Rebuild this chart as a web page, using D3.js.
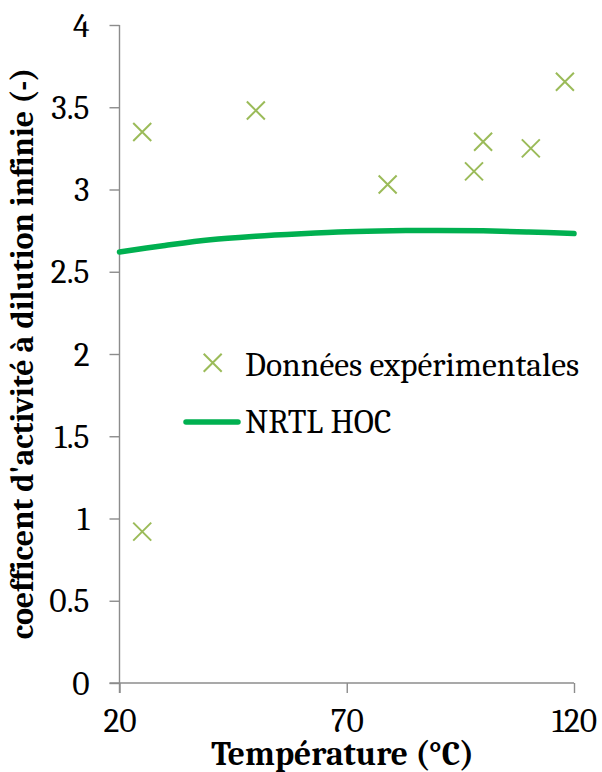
<!DOCTYPE html>
<html>
<head>
<meta charset="utf-8">
<script src="https://cdn.jsdelivr.net/npm/d3@7"></script>
<style>
  html, body { margin: 0; padding: 0; background: #fff; }
</style>
</head>
<body>
<svg id="chart" width="602" height="772"></svg>
<script>
// Data
const expTemps = [25, 25, 50, 79, 98, 100, 110.5, 118];
const expValues = [3.35, 0.92, 3.48, 3.03, 3.11, 3.29, 3.25, 3.655];
const modelTemps = [20, 30, 40, 50, 60, 70, 80, 90, 100, 110, 120];
const modelValues = [2.62, 2.66, 2.695, 2.716, 2.731, 2.743, 2.749, 2.751, 2.749, 2.742, 2.732];
const xTicks = [20, 70, 120];
const yTicks = [0, 0.5, 1, 1.5, 2, 2.5, 3, 3.5, 4];
const seriesNames = ["Données expérimentales", "NRTL HOC"];
const xTitle = "Température (°C)";
const yTitle = "coefficent d'activité à dilution infinie (-)";

const FONT = '"Caladea", "Liberation Serif", serif';
const svg = d3.select("#chart");
const axisColor = "#8c8c8c";
const crossColor = "#9bbb59";
const lineColor = "#00b050";
const fs = 33.5;

const x = d3.scaleLinear().domain([20, 120]).range([119.5, 574]);
const y = d3.scaleLinear().domain([0, 4]).range([683, 25]);

// Y axis
const yAxis = d3.axisLeft(y).tickValues(yTicks).tickSize(10).tickPadding(20)
  .tickFormat(d => String(d));
const gy = svg.append("g").attr("transform", `translate(${x(20)},0)`).call(yAxis);
gy.select(".domain").remove();
gy.selectAll(".tick line").attr("stroke", axisColor).attr("stroke-width", 1.4);
gy.selectAll(".tick text").style("font-family", FONT).style("font-size", fs + "px")
  .attr("fill", "#000").attr("dy", "0.33em");
svg.append("line").attr("x1", x(20)).attr("x2", x(20)).attr("y1", y(4)).attr("y2", y(0) + 10)
  .attr("stroke", axisColor).attr("stroke-width", 1.4);

// X axis
const xAxis = d3.axisBottom(x).tickValues(xTicks).tickSize(10).tickPadding(15)
  .tickFormat(d => String(d));
const gx = svg.append("g").attr("transform", `translate(0,${y(0)})`).call(xAxis);
gx.select(".domain").remove();
gx.selectAll(".tick line").attr("stroke", axisColor).attr("stroke-width", 1.4);
gx.selectAll(".tick text").style("font-family", FONT).style("font-size", fs + "px")
  .attr("fill", "#000").attr("dy", "0.71em");
svg.append("line").attr("x1", x(20) - 10).attr("x2", x(120)).attr("y1", y(0)).attr("y2", y(0))
  .attr("stroke", axisColor).attr("stroke-width", 1.4);

// Model line
const line = d3.line().x((d, i) => x(modelTemps[i])).y(d => y(d)).curve(d3.curveCatmullRom);
svg.append("path").datum(modelValues).attr("d", line)
  .attr("fill", "none").attr("stroke", lineColor).attr("stroke-width", 5.5)
  .attr("stroke-linecap", "round");

// Crosses
const cs = 9;
function cross(g, cx, cy) {
  g.append("path")
    .attr("d", `M${cx - cs},${cy - cs}L${cx + cs},${cy + cs}M${cx - cs},${cy + cs}L${cx + cs},${cy - cs}`)
    .attr("stroke", crossColor).attr("stroke-width", 2).attr("fill", "none");
}
const gp = svg.append("g");
expValues.forEach((v, i) => cross(gp, x(expTemps[i]), y(v)));

// Legend
const lg = svg.append("g");
cross(lg, 212.7, 362.7);
lg.append("text").attr("x", 245).attr("y", 376).style("font-family", FONT).style("font-size", fs + "px")
  .text(seriesNames[0]);
lg.append("line").attr("x1", 186).attr("x2", 238).attr("y1", 422).attr("y2", 422)
  .attr("stroke", lineColor).attr("stroke-width", 5.5).attr("stroke-linecap", "round");
lg.append("text").attr("x", 245).attr("y", 432.5).style("font-family", FONT).style("font-size", fs + "px")
  .text(seriesNames[1]);

// Titles
svg.append("text").attr("x", 342.5).attr("y", 765).attr("text-anchor", "middle")
  .style("font-family", FONT).style("font-size", "33.5px").style("font-weight", "bold").text(xTitle);
svg.append("text").attr("transform", "translate(33,353.5) rotate(-90)").attr("text-anchor", "middle")
  .style("font-family", FONT).style("font-size", "32px").style("font-weight", "bold").text(yTitle);
</script>
</body>
</html>
